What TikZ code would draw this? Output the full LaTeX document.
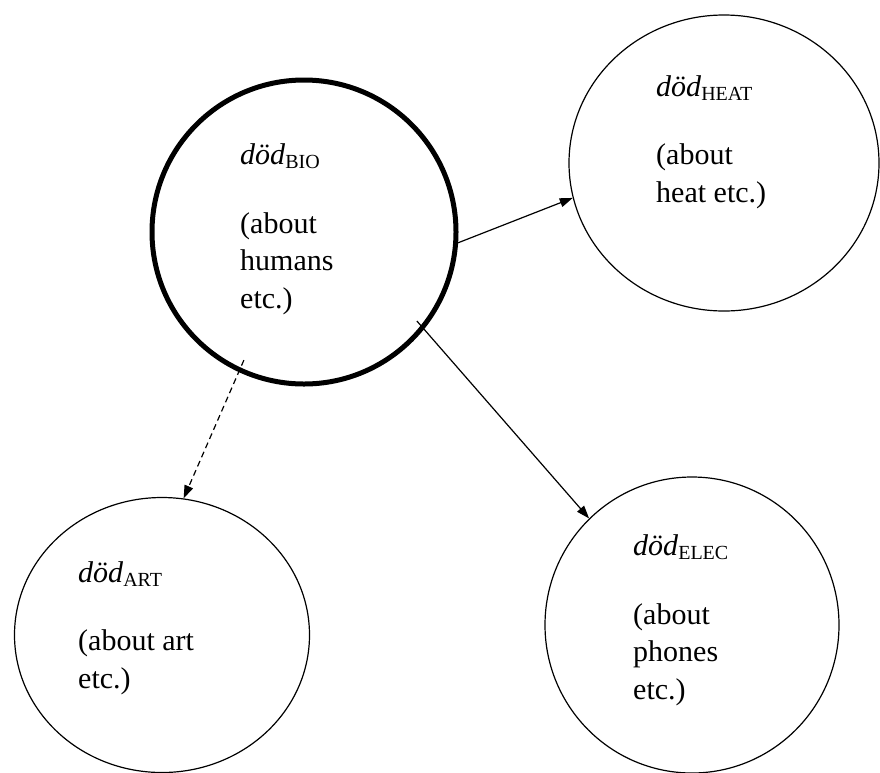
\documentclass[tikz,border=0pt]{standalone}
\usepackage{fontspec}
\setmainfont{Liberation Serif}
\usepackage{tikz}
\usetikzlibrary{shapes.geometric}
\usetikzlibrary{arrows.meta}

\newcommand{\dodsub}[1]{\textit{död}\raisebox{-4pt}{\fontsize{20}{20}\selectfont #1}}

\begin{document}
\begin{tikzpicture}[x=1pt, y=-1pt, every node/.style={inner sep=0pt},
		sense/.style={draw, ellipse, line width=1.2pt},
		mainsense/.style={draw, circle, line width=5pt, minimum size=304pt},
		gloss/.style={anchor=base west, align=left, font=\fontsize{30}{37.5}\selectfont},
		link/.style={line width=1.2pt, -{Triangle[length=13pt,width=9pt]}}]
		\useasboundingbox (0,0) rectangle (880,772);

		% Core sense
		\node[mainsense] (bio) at (304,232) {};

		% Extended senses
		\node[sense, minimum width=310pt, minimum height=296pt] (heat) at (724,163) {};
		\node[sense, minimum width=295pt, minimum height=275pt] (art)  at (162,635) {};
		\node[sense, minimum width=294pt, minimum height=296pt] (elec) at (692,625) {};

		% Glosses (anchored on the last line)
		\node[gloss] (biotext)  at (240,308) {\dodsub{BIO}\\[31pt] (about\\ humans\\ etc.)};
		\node[gloss] (heattext) at (656,202) {\dodsub{HEAT}\\[31pt] (about\\ heat etc.)};
		\node[gloss] (arttext)  at (78,688)  {\dodsub{ART}\\[31pt] (about art\\ etc.)};
		\node[gloss] (electext) at (633,699) {\dodsub{ELEC}\\[31pt] (about\\ phones\\ etc.)};

		% Extensions
		\draw[link] (bio.-4) -- (heat.-167);
		\draw[link, shorten <=-11pt] (bio.-39) -- (elec.134);
		\draw[link, dash pattern=on 6pt off 4pt, shorten <=-13pt] (bio.-115) -- (art.81);
	\end{tikzpicture}
\end{document}
